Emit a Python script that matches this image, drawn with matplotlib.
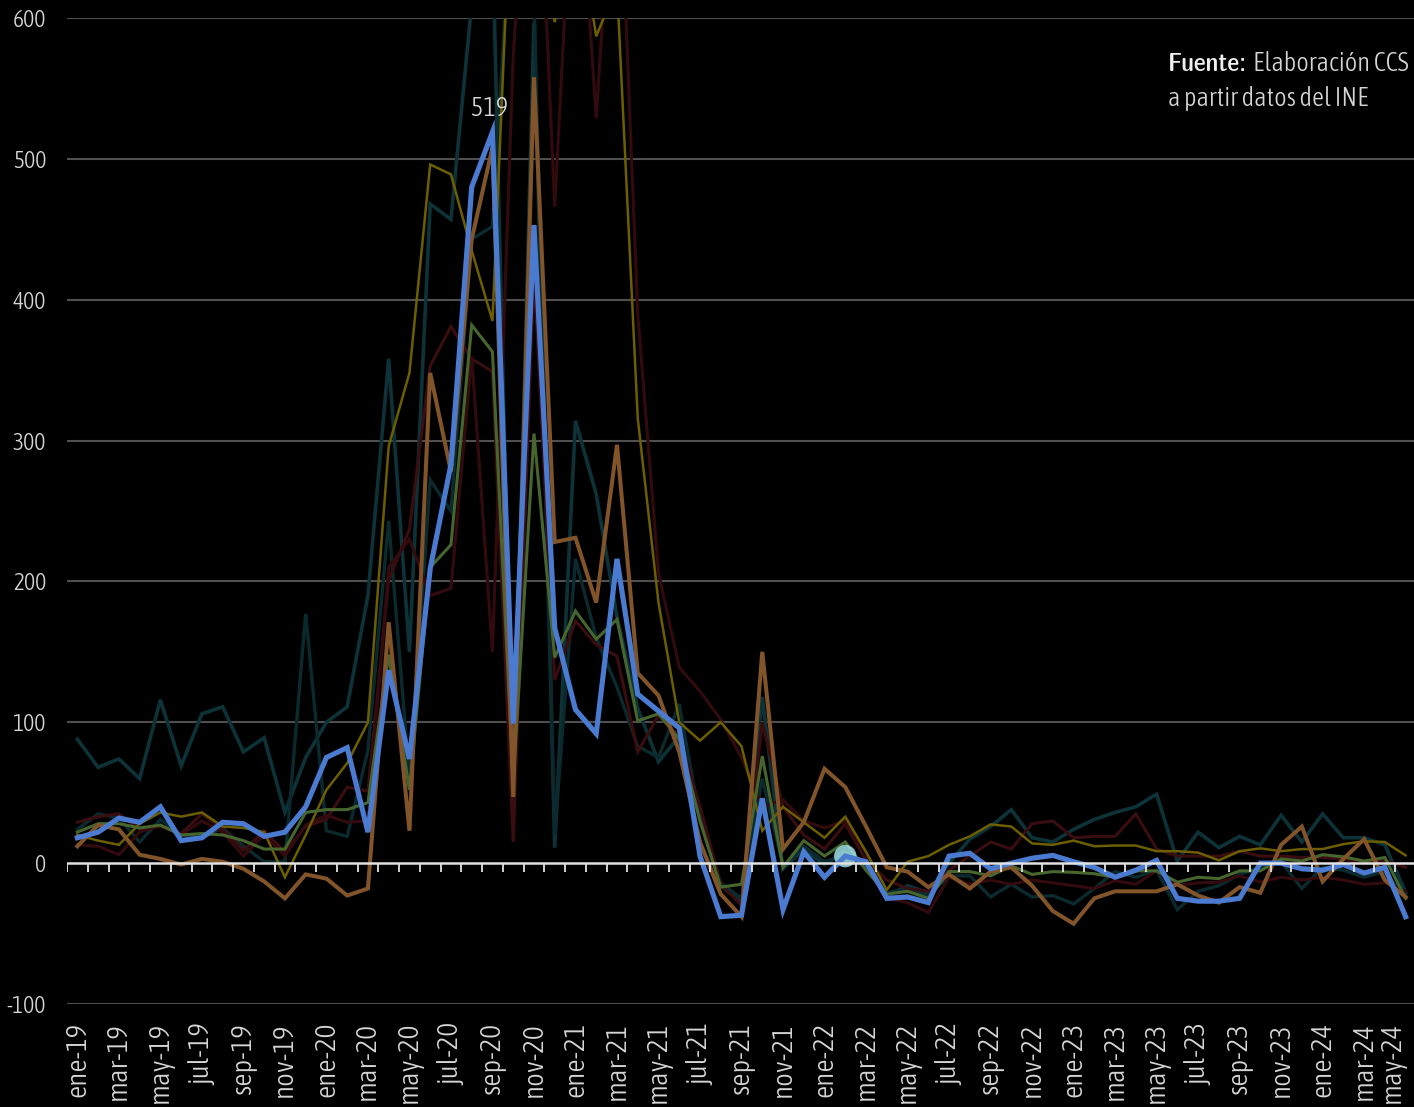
#!/usr/bin/env python3
"""Monthly series, 2019-2024: highlighted series over dimmed peers (dark theme)."""

import matplotlib

matplotlib.use("Agg")

import matplotlib.pyplot as plt
import numpy as np
from matplotlib import font_manager as fm

MONTH_ABBR = ["ene", "feb", "mar", "abr", "may", "jun", "jul", "ago", "sep", "oct", "nov", "dic"]
MONTHS = [f"{m}-{y:02d}" for y in range(19, 25) for m in MONTH_ABBR][:65]

# highlighted series
MAIN = [
    18, 22, 32, 29, 40, 16, 18, 29, 28, 19, 22, 40,
    75, 82, 22, 137, 74, 209, 283, 480, 519, 99, 453, 167,
    109, 92, 216, 120, 108, 96, 5, -38, -37, 46, -33, 8,
    -10, 5, 1, -25, -24, -28, 5, 7, -4, 0, 3.5, 5.5,
    1, -3, -10, -5, 2, -25, -27, -27, -25, 0, 0, -4,
    -5, -1, -7, -3, -38,
]

# dimmed peer series
TEAL_A = [
    88, 68, 74, 60, 116, 69, 106, 111, 79, 89, 36, 75,
    100, 111, 190, 358, 150, 468, 457, 610, 660, 40, 597, 11,
    314, 262, 175, 110, 72, 90, 36, -16, -28, 118, -4, 10,
    -1, 8, -1, -23, -16, -21, 0, 17, 26, 38, 18, 15,
    24, 31, 36, 40, 49, 1.5, 22, 11, 19, 13, 34, 15,
    35, 18, 18, 13, -21,
]
TEAL_B = [
    24, 35, 32, 15, 31, 20, 18, 25, 12, 1, 1, 177,
    23, 19, 80, 243, 60, 272, 250, 443, 452, 700, 620, 20,
    216, 160, 125, 83, 75, 113, 30, -14, -25, 60, -2, 12,
    1, 6, -3, -21, -18, -23, -9, -9, -24, -15, -24, -23,
    -29, -18, -6, -10, -5, -33, -20, -16, -8, -3, 1, -18,
    -3, -5, -10, -6, -25,
]
RED_A = [
    29, 33, 35, 24, 26, 21, 35, 24, 9, 23, 8, 26,
    31, 54, 51, 201, 237, 353, 381, 358, 349, 15, 420, 130,
    172, 155, 147, 79, 105, 90, 40, -15, -30, 100, 40, 20,
    10, 28, 2, -12, -18, -20, -5, 5, 15, 10, 28, 30,
    18, 19, 19, 35, 10, 5, 5, 5, 8.5, 5, 5, 4,
    4, 3, 0, 2, -3,
]
RED_B = [
    13, 12, 6, 22, 27, 20, 30, 22, 5, 20, 5, 27,
    34, 29, 30, 210, 230, 190, 195, 360, 150, 573, 800, 466,
    750, 529, 760, 390, 206, 139, 122, 102, 75, 40, 45, 30,
    25, 30, 8, -25, -28, -35, -10, -15, -12, -15, -12, -14,
    -16, -18, -12.5, -15, -5.5, -16, -14, -13.5, -9, -13.5, -10, -12,
    -10, -12, -15, -14, -20,
]
OLIVE = [
    20, 16, 13, 28, 36, 33, 36, 26, 25, 22, -10, 20,
    52, 71, 100, 296, 348, 496, 489, 435, 385, 730, 720, 597,
    680, 587, 623, 316, 185, 100, 87, 100, 83, 23, 40, 29,
    18, 33, 8, -19, 1, 5, 13, 19, 27.5, 26, 14, 13,
    16, 12, 12.5, 12.5, 8.5, 8.5, 7.5, 2, 8.5, 10.5, 8.5, 10,
    10, 13.5, 15.5, 15, 5.5,
]
GREEN = [
    22, 28, 28, 25, 27, 20, 21, 20, 16, 10, 10, 36,
    38, 38, 43, 148, 52, 210, 226, 382, 363, 57, 305, 146,
    179, 159, 173, 101, 106, 88, 30, -17, -15, 76, -3, 16,
    5, 15, -5, -22, -20, -25, -6, -6, -9, -2, -8, -6,
    -6.5, -7.5, -10, -5.5, -5.5, -13.5, -10, -11, -5.5, -5.5, 3, 1.5,
    6, 4.5, 1.5, 4, -25,
]
BROWN = [
    12, 27, 24, 6, 3, -1, 3, 1, -4, -13, -25, -8,
    -11, -23, -18, 171, 23, 348, 278, 443, 508, 47, 558, 228,
    231, 185, 297, 135, 119, 79, 15, -22, -38, 150, 10, 29,
    67, 54, 26, -3, -6, -17, -8, -18, -6, -3, -16, -34,
    -43, -25, -20, -20, -20, -15, -23, -28, -17, -21, 13, 26,
    -13, 3, 17, -12, -24,
]

PEAK_INDEX = 20      # sep-20
HOVER_INDEX = 37     # feb-22

BG = "#000000"
GRID = "#4f4f4f"
TEXT = "#d6d6d6"
AXIS = "#e2e2e2"
BLUE = "#4a7bd0"
HOVER = "#9fdfe6"

PEERS = [
    (TEAL_A, "#0d3237", 2.6),
    (TEAL_B, "#0b2a2e", 2.4),
    (RED_A, "#3a0d10", 2.2),
    (RED_B, "#330b0e", 2.2),
    (OLIVE, "#6d5e00", 1.8),
    (GREEN, "#47662e", 2.2),
    (BROWN, "#82542a", 2.9),
]

STRETCH_RANK = {"condensed": 0, "semi-condensed": 1, "extra-condensed": 2,
                "ultra-condensed": 3}


def _weight(entry):
    w = entry.weight
    if isinstance(w, str):
        w = fm.weight_dict.get(w, 400)
    return int(w)


def pick_font(target_weight):
    """Find a narrow/condensed face among installed fonts; fall back to Liberation Sans."""
    best, best_score = None, None
    for f in fm.fontManager.ttflist:
        if f.style != "normal":
            continue
        name = f.name
        stretch = str(f.stretch)
        if "Narrow" in name:
            rank = 0
        elif "Condensed" in name or "Condensed" in f.fname:
            rank = 0 if "Semi" not in f.fname and "Extra" not in f.fname else 1
        elif stretch in STRETCH_RANK:
            rank = STRETCH_RANK[stretch]
        else:
            continue
        score = (rank, abs(_weight(f) - target_weight))
        if best_score is None or score < best_score:
            best, best_score = f, score
    if best is None:
        return fm.FontProperties(family=["Liberation Sans", "DejaVu Sans"],
                                 weight="bold" if target_weight > 500 else "normal")
    return fm.FontProperties(fname=best.fname)


def draw(ax, fp):
    x = np.arange(len(MONTHS))

    for values, color, lw in PEERS:
        ax.plot(x, values, color=color, lw=lw, solid_joinstyle="miter", zorder=2)

    ax.scatter([x[HOVER_INDEX]], [MAIN[HOVER_INDEX]], s=260, color=HOVER,
               alpha=0.85, edgecolors="none", zorder=3)
    ax.plot(x, MAIN, color=BLUE, lw=3.7, solid_joinstyle="miter", zorder=4)

    ax.annotate(f"{MAIN[PEAK_INDEX]:.0f}", (x[PEAK_INDEX], MAIN[PEAK_INDEX]),
                xytext=(-2, 8), textcoords="offset points", ha="center",
                va="bottom", fontproperties=fp, fontsize=19, color=TEXT)

    # zero line with category-boundary ticks
    ax.axhline(0, color=AXIS, lw=1.8, zorder=5)
    bounds = np.arange(len(MONTHS) + 1) - 0.5
    ax.vlines(bounds, -6, 0, color=AXIS, lw=1.3, zorder=5)


def style(ax, fp):
    ax.set_facecolor(BG)
    ax.set_xlim(-0.5, len(MONTHS) - 0.5)
    ax.set_ylim(-100, 600)

    yt = np.arange(-100, 601, 100)
    ax.set_yticks(yt)
    ax.set_yticklabels([f"{v}" for v in yt])
    for v in yt:
        if v != 0:
            ax.axhline(v, color=GRID, lw=1.5, zorder=1)

    xt = np.arange(0, len(MONTHS), 2)
    ax.set_xticks(xt)
    ax.set_xticklabels([MONTHS[i] for i in xt], rotation=90)

    ax.tick_params(axis="x", length=0, pad=13, labelcolor=TEXT)
    ax.tick_params(axis="y", length=0, pad=15, labelcolor=TEXT)
    xlabels = ax.get_xticklabels()
    for lab in xlabels:
        lab.set_fontproperties(fp)
        lab.set_fontsize(21)
    # last label sits on the right edge: keep it inside the canvas
    xlabels[-1].set_horizontalalignment("right")
    for lab in ax.get_yticklabels():
        lab.set_fontproperties(fp)
        lab.set_fontsize(17)

    for s in ax.spines.values():
        s.set_visible(False)


def add_source(fig, fp, fp_bold):
    x0_px, x_end_px = 1168, 1409
    y1, y2 = 1 - 71 / 1107, 1 - 106 / 1107
    size = 21
    bold = fig.text(x0_px / 1414, y1, "Fuente:", fontproperties=fp_bold,
                    fontsize=size, color="#f0f0f0", ha="left", va="baseline")
    rest = fig.text(0, y1, "Elaboración CCS", fontproperties=fp,
                    fontsize=size, color=TEXT, ha="left", va="baseline")
    line2 = fig.text(x0_px / 1414, y2, "a partir datos del INE",
                     fontproperties=fp, fontsize=size, color=TEXT,
                     ha="left", va="baseline")

    # fit line 1 to the reference span
    renderer = fig.canvas.get_renderer()
    for _ in range(3):
        wb = bold.get_window_extent(renderer).width
        wr = rest.get_window_extent(renderer).width
        total = wb + 6 + wr
        size = size * (x_end_px - x0_px) / total
        for t in (bold, rest, line2):
            t.set_fontsize(size)
    wb = bold.get_window_extent(renderer).width
    rest.set_x((x0_px + wb + 6) / 1414)


def main():
    fp = pick_font(300)
    fp_bold = pick_font(600)

    fig = plt.figure(figsize=(14.14, 11.07), dpi=100)
    fig.patch.set_facecolor(BG)
    left = 67 / 1414
    bottom = 1 - 1004 / 1107
    top = 1 - 18 / 1107
    right = 1416 / 1414
    ax = fig.add_axes([left, bottom, right - left, top - bottom])

    style(ax, fp)
    draw(ax, fp)
    add_source(fig, fp, fp_bold)

    fig.savefig("out.png", dpi=100, facecolor=BG)
    plt.close(fig)


if __name__ == "__main__":
    main()
